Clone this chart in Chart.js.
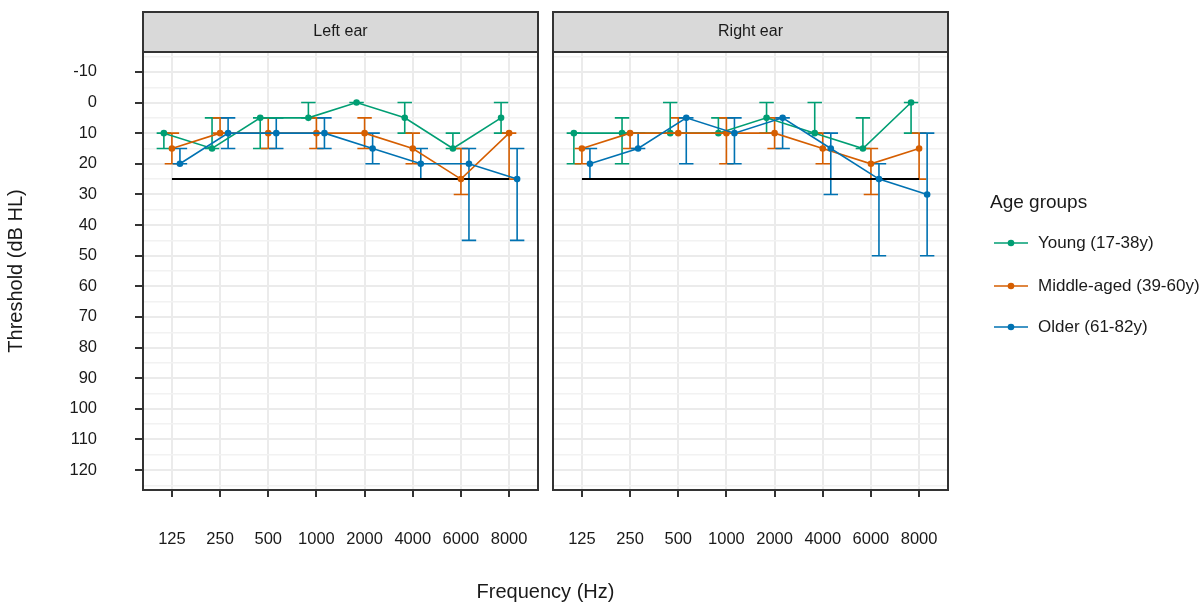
<!DOCTYPE html>
<html><head><meta charset="utf-8">
<script src="https://cdn.jsdelivr.net/npm/chart.js@4/dist/chart.umd.min.js"></script>
<style>html,body{margin:0;padding:0;background:#fff;}canvas{display:block;}</style>
</head><body>
<canvas id="c" width="1201" height="602"></canvas>
<script>
// ---------- data ----------
const FREQUENCIES = ['125','250','500','1000','2000','4000','6000','8000'];
const PANELS = ['Left ear','Right ear'];
const GROUPS = ['Young (17-38y)','Middle-aged (39-60y)','Older (61-82y)'];
const Y_TICKS = [-10,0,10,20,30,40,50,60,70,80,90,100,110,120];
const Y_TICK_LABELS = ['-10','0','10','20','30','40','50','60','70','80','90','100','110','120'];
const REF_LEVEL = 25;

const LEFT_YOUNG       = [10,15, 5, 5, 0, 5,15, 5];
const LEFT_YOUNG_LOW   = [10, 5, 5, 0, 0, 0,10, 0];
const LEFT_YOUNG_HIGH  = [15,15,15, 5, 0,10,15,10];
const LEFT_MIDDLE      = [15,10,10,10,10,15,25,10];
const LEFT_MIDDLE_LOW  = [10, 5, 5, 5, 5,10,15,10];
const LEFT_MIDDLE_HIGH = [20,10,15,15,15,20,30,25];
const LEFT_OLDER       = [20,10,10,10,15,20,20,25];
const LEFT_OLDER_LOW   = [15, 5, 5, 5,10,15,15,15];
const LEFT_OLDER_HIGH  = [20,15,15,15,20,25,45,45];

const RIGHT_YOUNG       = [10,10,10,10, 5,10,15, 0];
const RIGHT_YOUNG_LOW   = [10, 5, 0, 5, 0, 0, 5, 0];
const RIGHT_YOUNG_HIGH  = [20,20,10,10,10,10,15,10];
const RIGHT_MIDDLE      = [15,10,10,10,10,15,20,15];
const RIGHT_MIDDLE_LOW  = [15,10, 5, 5, 5,10,15,10];
const RIGHT_MIDDLE_HIGH = [20,15,10,20,15,20,30,25];
const RIGHT_OLDER       = [20,15, 5,10, 5,15,25,30];
const RIGHT_OLDER_LOW   = [15,10, 5, 5, 5,10,20,10];
const RIGHT_OLDER_HIGH  = [25,15,20,20,15,30,50,50];

// ---------- layout / style ----------
const COLORS = ['#009E73','#D55E00','#0072B2'];
const DODGE = [-1/6, 0, 1/6];
const CAP_HALF = 0.15;
const AREA = {left:143, right:948, top:52, bottom:490};
const PANEL_W = 395, GAP = 15;
const SPAN = 8.2 * (2*PANEL_W + GAP) / PANEL_W;
const X_SHIFT = (0.4) - (8.6 - SPAN);   // x-units offset of right panel
const FONT = '"Liberation Sans", Arial, Helvetica, sans-serif';
const TXT = '#1a1a1a';

const seriesDefs = [
  {panel:0, g:0, m:LEFT_YOUNG,  lo:LEFT_YOUNG_LOW,  hi:LEFT_YOUNG_HIGH},
  {panel:0, g:1, m:LEFT_MIDDLE, lo:LEFT_MIDDLE_LOW, hi:LEFT_MIDDLE_HIGH},
  {panel:0, g:2, m:LEFT_OLDER,  lo:LEFT_OLDER_LOW,  hi:LEFT_OLDER_HIGH},
  {panel:1, g:0, m:RIGHT_YOUNG,  lo:RIGHT_YOUNG_LOW,  hi:RIGHT_YOUNG_HIGH},
  {panel:1, g:1, m:RIGHT_MIDDLE, lo:RIGHT_MIDDLE_LOW, hi:RIGHT_MIDDLE_HIGH},
  {panel:1, g:2, m:RIGHT_OLDER,  lo:RIGHT_OLDER_LOW,  hi:RIGHT_OLDER_HIGH}
];

const datasets = [];
seriesDefs.forEach(s => {
  datasets.push({
    label: GROUPS[s.g] + ' ' + PANELS[s.panel],
    xAxisID: s.panel === 0 ? 'x' : 'x2',
    data: s.m.map((v,i) => ({x: i + 1 + DODGE[s.g], y: v})),
    errLow: s.lo, errHigh: s.hi,
    borderColor: COLORS[s.g], backgroundColor: COLORS[s.g],
    pointBackgroundColor: COLORS[s.g], pointBorderWidth: 0,
    pointRadius: 3.3, borderWidth: 1.6, tension: 0,
    order: 3 - s.g
  });
});
[0,1].forEach(p => {
  datasets.push({
    label: 'ref ' + PANELS[p],
    xAxisID: p === 0 ? 'x' : 'x2',
    data: [{x:1, y:REF_LEVEL}, {x:FREQUENCIES.length, y:REF_LEVEL}],
    borderColor: '#000', borderWidth: 2, pointRadius: 0, order: 10
  });
});

const facetPlugin = {
  id: 'facets',
  beforeDatasetsDraw(chart) {
    const ctx = chart.ctx, ca = chart.chartArea;
    const xs = chart.scales.x, x2 = chart.scales.x2, ys = chart.scales.y;
    const lr = xs.getPixelForValue(8.6), rl = x2.getPixelForValue(0.4);
    ctx.save();
    ctx.fillStyle = '#fff';
    ctx.fillRect(lr, ca.top - 2, rl - lr, ca.bottom - ca.top + 4);
    // error bars
    chart.data.datasets.forEach(ds => {
      if (!ds.errLow) return;
      const sc = chart.scales[ds.xAxisID];
      ctx.strokeStyle = ds.borderColor; ctx.lineWidth = 1.6;
      ds.data.forEach((pt, i) => {
        const px = sc.getPixelForValue(pt.x);
        const c1 = sc.getPixelForValue(pt.x - CAP_HALF), c2 = sc.getPixelForValue(pt.x + CAP_HALF);
        const y1 = ys.getPixelForValue(ds.errLow[i]), y2 = ys.getPixelForValue(ds.errHigh[i]);
        ctx.beginPath();
        ctx.moveTo(px, y1); ctx.lineTo(px, y2);
        ctx.moveTo(c1, y1); ctx.lineTo(c2, y1);
        ctx.moveTo(c1, y2); ctx.lineTo(c2, y2);
        ctx.stroke();
      });
    });
    ctx.restore();
  },
  afterDraw(chart) {
    const ctx = chart.ctx, ca = chart.chartArea;
    const xs = chart.scales.x, x2 = chart.scales.x2;
    const panels = [[ca.left, xs.getPixelForValue(8.6)], [x2.getPixelForValue(0.4), ca.right]];
    ctx.save();
    panels.forEach((p, k) => {
      // strip
      ctx.fillStyle = '#D9D9D9';
      ctx.fillRect(p[0], 12, p[1] - p[0], ca.top - 12);
      ctx.strokeStyle = '#333'; ctx.lineWidth = 2;
      ctx.strokeRect(p[0], 12, p[1] - p[0], ca.top - 12);
      ctx.fillStyle = TXT; ctx.font = '16px ' + FONT;
      ctx.textAlign = 'center'; ctx.textBaseline = 'middle';
      ctx.fillText(PANELS[k], (p[0] + p[1]) / 2, 32);
      // panel border
      ctx.strokeRect(p[0], ca.top, p[1] - p[0], ca.bottom - ca.top);
    });
    // legend
    ctx.textAlign = 'left'; ctx.textBaseline = 'middle'; ctx.fillStyle = TXT;
    ctx.font = '19px ' + FONT;
    ctx.fillText('Age groups', 990, 203);
    const ly = [243, 286, 327];
    GROUPS.forEach((g, i) => {
      ctx.strokeStyle = COLORS[i]; ctx.lineWidth = 1.6;
      ctx.beginPath(); ctx.moveTo(994, ly[i]); ctx.lineTo(1028, ly[i]); ctx.stroke();
      ctx.fillStyle = COLORS[i];
      ctx.beginPath(); ctx.arc(1011, ly[i], 3.3, 0, Math.PI * 2); ctx.fill();
      ctx.fillStyle = TXT; ctx.font = '17px ' + FONT;
      ctx.fillText(g, 1038, ly[i]);
    });
    ctx.restore();
  }
};

new Chart(document.getElementById('c'), {
  type: 'line',
  data: {datasets},
  plugins: [facetPlugin],
  options: {
    responsive: false, animation: false, devicePixelRatio: 1,
    parsing: true,
    layout: {padding: {top: AREA.top, right: 1201 - AREA.right, left: 0, bottom: 0}},
    plugins: {legend: {display: false}, tooltip: {enabled: false}},
    scales: {
      x: {
        type: 'linear', position: 'bottom', min: 0.4, max: 0.4 + SPAN,
        afterFit: s => { s.height = 602 - AREA.bottom; },
        afterBuildTicks: s => {
          const t = [];
          FREQUENCIES.forEach((f, i) => t.push({value: i + 1}));
          FREQUENCIES.forEach((f, i) => t.push({value: i + 1 + X_SHIFT}));
          s.ticks = t;
        },
        ticks: {
          autoSkip: false, maxRotation: 0, padding: 33, color: TXT,
          font: {family: FONT, size: 16.5},
          callback: (v, i) => FREQUENCIES[i % FREQUENCIES.length]
        },
        grid: {color: '#EBEBEB', lineWidth: 2, tickColor: '#333', tickLength: 7, tickWidth: 2},
        border: {display: false},
        title: {display: true, text: 'Frequency (Hz)', color: TXT,
                font: {family: FONT, size: 20, lineHeight: 1}, padding: {top: 0, bottom: 0}}
      },
      x2: {
        type: 'linear', position: 'bottom', display: false,
        min: 8.6 - SPAN, max: 8.6
      },
      y: {
        type: 'linear', position: 'left', reverse: true, min: -16.5, max: 126.5,
        afterFit: s => { s.width = AREA.left; },
        afterBuildTicks: s => {
          const t = [];
          for (let v = -15; v <= 125; v += 5) t.push({value: v});
          s.ticks = t;
        },
        ticks: {
          autoSkip: false, padding: 38, color: TXT,
          font: {family: FONT, size: 16.5},
          callback: v => { const k = Y_TICKS.indexOf(v); return k >= 0 ? Y_TICK_LABELS[k] : ''; }
        },
        grid: {
          color: c => (c.tick && Y_TICKS.includes(c.tick.value)) ? '#EBEBEB' : '#F2F2F2',
          lineWidth: c => (c.tick && Y_TICKS.includes(c.tick.value)) ? 2 : 1.4,
          tickColor: c => (c.tick && Y_TICKS.includes(c.tick.value)) ? '#333' : 'rgba(0,0,0,0)',
          tickLength: 8, tickWidth: 2
        },
        border: {display: false},
        title: {display: true, text: 'Threshold (dB HL)', color: TXT,
                font: {family: FONT, size: 20}, padding: {top: 4, bottom: 4}}
      }
    }
  }
});
</script>
</body></html>
